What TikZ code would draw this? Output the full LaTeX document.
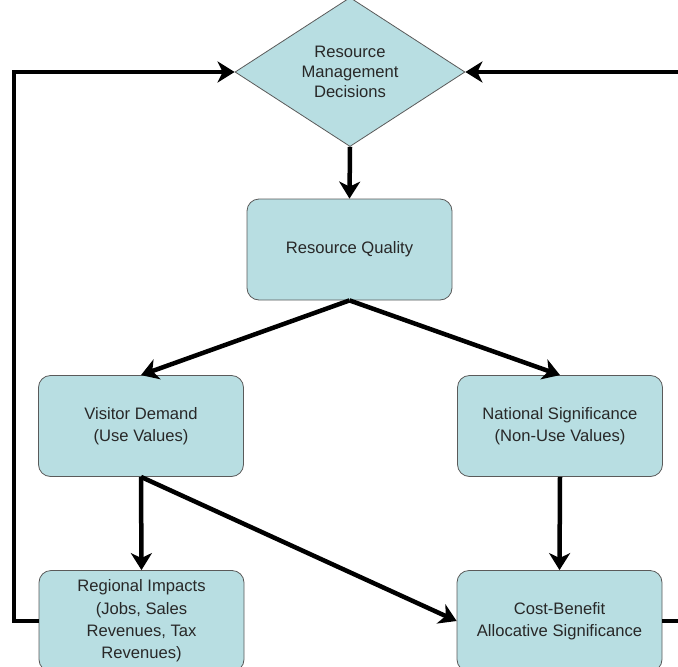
\documentclass[tikz,border=0pt]{standalone}
\usepackage{fontspec}
\setmainfont{Liberation Sans}
\usetikzlibrary{shapes.geometric,arrows.meta}
\definecolor{boxfill}{RGB}{184,222,226}
\definecolor{boxline}{RGB}{90,90,90}
\definecolor{boxtext}{RGB}{40,40,40}
\begin{document}
\begin{tikzpicture}[x=1pt,y=-1pt,
    every node/.style={font=\fontsize{16.6}{22.3}\selectfont, text=boxtext, align=center},
    box/.style={draw=boxline, line width=0.8pt, fill=boxfill, rounded corners=12pt,
        minimum width=205pt, minimum height=101pt, inner sep=0pt},
    decision/.style={diamond, draw=boxline, line width=0.8pt, fill=boxfill,
        minimum width=230pt, minimum height=135pt, inner sep=0pt},
    flow/.style={line width=4.5pt, -{Stealth[length=17pt,width=21pt,inset=5pt]}},
    loop/.style={line width=4.5pt, line join=miter, -{Stealth[length=17pt,width=21pt,inset=5pt]}}]
    \clip (0,0) rectangle (678,667);

    \node[decision] (dec) at (350, 72) {Resource\\[-2pt]Management\\[-2pt]Decisions};
    \node[box] (qual) at (349.5, 249.5) {Resource Quality};
    \node[box] (demand) at (141, 426) {Visitor Demand\\(Use Values)};
    \node[box] (signif) at (560, 426) {National Significance\\(Non-Use Values)};
    \node[box] (impacts) at (141.5, 621) {Regional Impacts\\(Jobs, Sales\\Revenues, Tax\\Revenues)};
    \node[box] (costben) at (559.5, 621) {Cost-Benefit\\Allocative Significance};

    \coordinate (lft) at (14, 72);
    \coordinate (rgt) at (686, 72);

    \draw[flow] (dec.south) -- (qual.north);
    \draw[flow] (qual.south) -- (demand.north);
    \draw[flow] (qual.south) -- (signif.north);
    \draw[flow] (demand.south) -- (impacts.north);
    \draw[flow] (demand.south) -- (costben.west);
    \draw[flow] (signif.south) -- (costben.north);
    \draw[loop] (impacts.west) -| (lft) -- (dec.west);
    \draw[loop] (costben.east) -| (rgt) -- (dec.east);
\end{tikzpicture}
\end{document}
